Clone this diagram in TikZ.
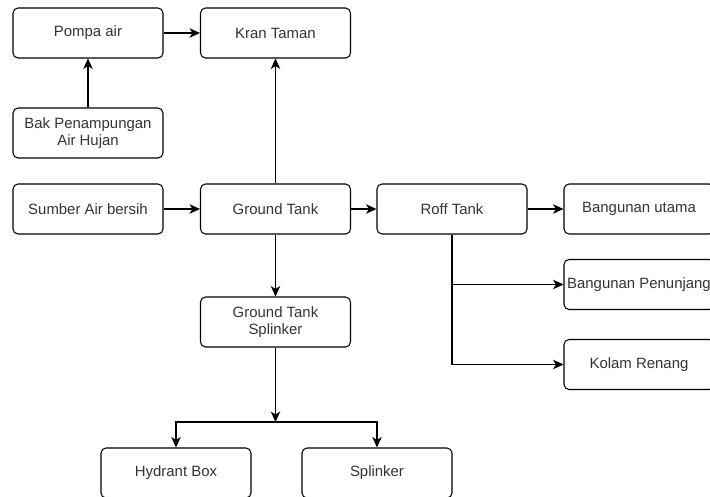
\documentclass[tikz,border=0pt]{standalone}
\usepackage{fontspec}
\setmainfont{Liberation Sans}
\usetikzlibrary{arrows.meta}
\tikzset{
    kotak/.style={draw, rounded corners=0.1cm, line width=0.6pt, minimum width=3cm, minimum height=1cm, align=center, font=\fontsize{8.5pt}{10pt}\selectfont, text=black!80},
    panah/.style={line width=0.6pt, -{Stealth[length=2.1mm,width=1.9mm,inset=0.6mm]}}
}
\begin{document}
\begin{tikzpicture}[x=0.02cm, y=-0.02cm]
        \clip (0,0) rectangle (710,497);
        \foreach \n/\x/\y/\t in
            {pompa/88/33/Pompa air, kran/275.5/33/Kran Taman, bak/88/133/{Bak Penampungan\\Air Hujan}, sumber/88/209/Sumber Air bersih, ground/275.5/209/Ground Tank, roff/452/209/Roff Tank, utama/639/209/Bangunan utama, kolam/639/364.5/Kolam Renang, gsplinker/275.5/322/{Ground Tank\\Splinker}, hydrant/176/473/Hydrant Box, splinker/377/473/Splinker}
            {
                \node[kotak] (\n) at (\x,\y) {\t};
            }
        \node[kotak, inner xsep=0pt] (penunjang) at (639,284.5) {Bangunan Penunjang};
        \coordinate (cabang) at (275.5,422);
        \foreach \a/\b in
            {pompa/kran, bak/pompa, sumber/ground, ground/kran, ground/roff, roff/utama, ground/gsplinker, gsplinker/cabang}
            {
                \draw[panah] (\a) -- (\b);
            }
        \draw[panah] (roff.south) |- (penunjang.west);
        \draw[panah] (roff.south) |- (kolam.west);
        \draw[panah] (cabang) -| (hydrant.north);
        \draw[panah] (cabang) -| (splinker.north);

    \end{tikzpicture}
\end{document}
